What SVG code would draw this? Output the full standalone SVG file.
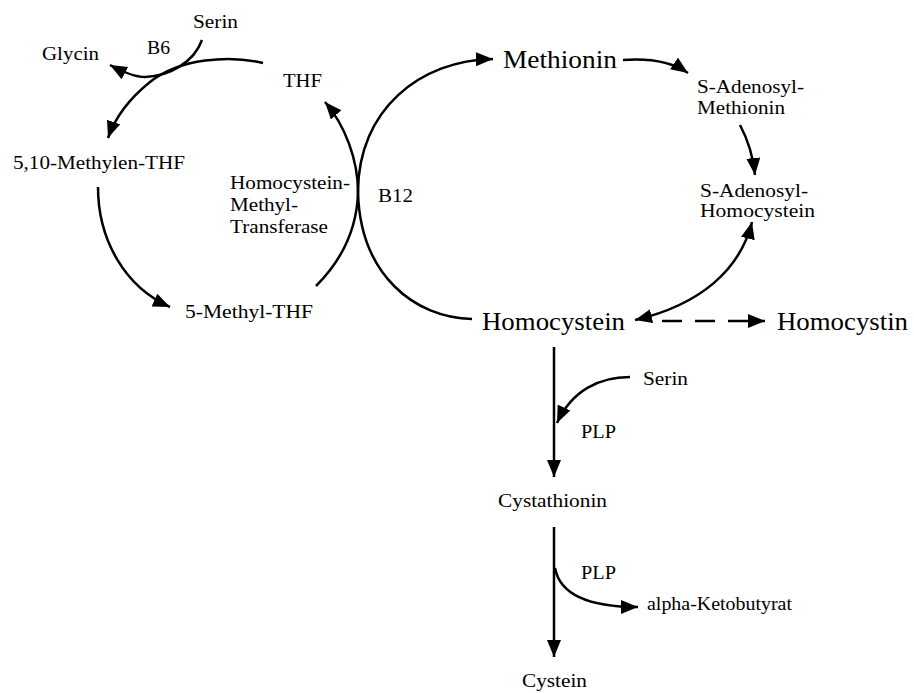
<svg xmlns="http://www.w3.org/2000/svg" width="914" height="693" viewBox="0 0 914 693">
<defs>
<marker id="ah" markerUnits="userSpaceOnUse" markerWidth="18" markerHeight="15" refX="17" refY="7" orient="auto-start-reverse" viewBox="0 0 18 15">
<path d="M0,0 L17,7 L0,14 z" fill="#000"/>
</marker>
</defs>
<style>
.s{font-size:19.5px}
.b{font-size:26px}
.c{fill:none;stroke:#000;stroke-width:2.5}
.a{marker-end:url(#ah)}
</style>
<rect width="914" height="693" fill="#fff"/>
<g id="connectors">
<path class="c a" d="M263,63 C230,55 180,58 150,82 C130,98 115,118 108,138"/>
<path class="c a" d="M202,40 C194,62 170,76 145,77 C133,77 121,71 110,65"/>
<path class="c a" d="M98,187 C98,240 125,287 170,307"/>
<path class="c a" d="M316,286 C340,262 357,232 358,192 C358,160 345,125 325,102"/>
<path class="c a" d="M472,319 C415,318 360,275 358,192 C358,110 420,60 493,59"/>
<path class="c a" d="M623,60 C650,58 672,62 688,73"/>
<path class="c a" d="M740,125 C748,140 753,155 755,175"/>
<path class="c a" d="M752,222 C740,270 700,305 635,320" marker-start="url(#ah)"/>
<path class="c a" d="M662,321 L765,321" stroke-dasharray="20 13"/>
<path class="c a" d="M554,347 L554,477"/>
<path class="c a" d="M630,377 C600,377 572,390 557,423"/>
<path class="c a" d="M554,527 L554,657"/>
<path class="c a" d="M555,568 C560,595 590,607 638,607"/>
</g>
<g font-family="'Liberation Serif', 'DejaVu Serif', serif" fill="#000" lengthAdjust="spacingAndGlyphs">
<g id="serin1"><text class="s" x="193" y="28" textLength="45" lengthAdjust="spacingAndGlyphs">Serin</text></g>
<g id="b6"><text class="s" x="147" y="54" textLength="23" lengthAdjust="spacingAndGlyphs">B6</text></g>
<g id="glycin"><text class="s" x="42" y="60" textLength="57" lengthAdjust="spacingAndGlyphs">Glycin</text></g>
<g id="thf"><text class="s" x="283" y="87" textLength="39" lengthAdjust="spacingAndGlyphs">THF</text></g>
<g id="methylen-thf"><text class="s" x="13" y="169" textLength="172" lengthAdjust="spacingAndGlyphs">5,10-Methylen-THF</text></g>
<g id="transferase">
<text class="s" x="230" y="189" textLength="120" lengthAdjust="spacingAndGlyphs">Homocystein-</text>
<text class="s" x="230" y="211" textLength="68" lengthAdjust="spacingAndGlyphs">Methyl-</text>
<text class="s" x="230" y="233" textLength="98" lengthAdjust="spacingAndGlyphs">Transferase</text>
</g>
<g id="b12"><text class="s" x="378" y="202" textLength="35" lengthAdjust="spacingAndGlyphs">B12</text></g>
<g id="methyl-thf"><text class="s" x="185" y="318" textLength="128" lengthAdjust="spacingAndGlyphs">5-Methyl-THF</text></g>
<g id="methionin"><text class="b" x="503" y="68" textLength="114" lengthAdjust="spacingAndGlyphs">Methionin</text></g>
<g id="sam">
<text class="s" x="697" y="93" textLength="107" lengthAdjust="spacingAndGlyphs">S-Adenosyl-</text>
<text class="s" x="697" y="114" textLength="88" lengthAdjust="spacingAndGlyphs">Methionin</text>
</g>
<g id="sah">
<text class="s" x="700" y="197" textLength="108" lengthAdjust="spacingAndGlyphs">S-Adenosyl-</text>
<text class="s" x="700" y="217" textLength="115" lengthAdjust="spacingAndGlyphs">Homocystein</text>
</g>
<g id="homocystein"><text class="b" x="482" y="330" textLength="143" lengthAdjust="spacingAndGlyphs">Homocystein</text></g>
<g id="homocystin"><text class="b" x="777" y="330" textLength="131" lengthAdjust="spacingAndGlyphs">Homocystin</text></g>
<g id="serin2"><text class="s" x="643" y="385" textLength="45" lengthAdjust="spacingAndGlyphs">Serin</text></g>
<g id="plp1"><text class="s" x="581" y="438" textLength="35" lengthAdjust="spacingAndGlyphs">PLP</text></g>
<g id="cystathionin"><text class="s" x="498" y="507" textLength="109" lengthAdjust="spacingAndGlyphs">Cystathionin</text></g>
<g id="plp2"><text class="s" x="581" y="579" textLength="35" lengthAdjust="spacingAndGlyphs">PLP</text></g>
<g id="ketobutyrat"><text class="s" x="647" y="610" textLength="145" lengthAdjust="spacingAndGlyphs">alpha-Ketobutyrat</text></g>
<g id="cystein"><text class="s" x="522" y="687" textLength="65" lengthAdjust="spacingAndGlyphs">Cystein</text></g>
</g>
</svg>
